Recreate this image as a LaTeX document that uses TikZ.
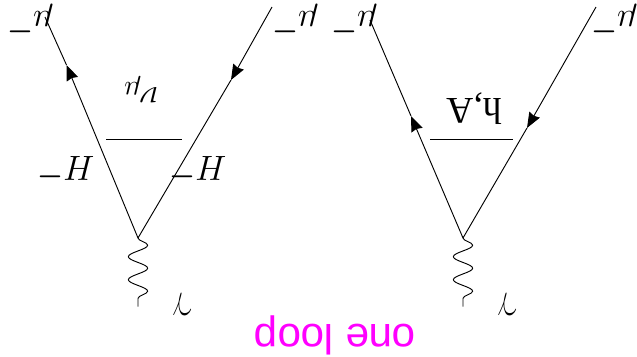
\documentclass[tikz,border=0pt]{standalone}
\usepackage{fontspec}
\setmainfont{Liberation Serif}
\setsansfont{Liberation Sans}
\usetikzlibrary{arrows.meta,decorations.pathmorphing}
\definecolor{loopmagenta}{rgb}{1,0,1}
\newcommand{\heavyminus}{\mbox{\boldmath$\scriptstyle-$}}
\tikzset{
  fermion/.style={line width=0.8pt,-{Stealth[length=0.46cm,width=0.36cm,inset=0.04cm]}},
  plainline/.style={line width=0.8pt},
  photon/.style={line width=0.8pt,decorate,decoration={snake,segment length=0.69cm,amplitude=0.29cm}},
  mathlabel/.style={rotate=180,scale=1.2,font=\Huge,inner sep=0pt},
  textlabel/.style={rotate=180,inner sep=0pt,font=\fontsize{32}{32}\selectfont},
  looplabel/.style={rotate=180,inner sep=0pt,text=loopmagenta,font=\sffamily\fontsize{36}{36}\selectfont}
}
\begin{document}
\begin{tikzpicture}[x=0.03cm,y=-0.03cm]
  \useasboundingbox (0,0) rectangle (637,356);
  % left diagram
  \coordinate (vertA) at (138,238);
  \coordinate (muOutA) at (45,17);
  \coordinate (muInA) at (272,7);
  \coordinate (tipOutA) at (66.5,65);
  \coordinate (tipInA) at (231,80);
  \coordinate (photA) at (138,306.5);
  \coordinate (barLA) at (106,139);
  \coordinate (barRA) at (182,139);
  \draw[fermion] (vertA) -- (tipOutA);
  \draw[plainline] (tipOutA) -- (muOutA);
  \draw[fermion] (muInA) -- (tipInA);
  \draw[plainline] (tipInA) -- (vertA);
  \draw[plainline] (barLA) -- (barRA);
  \draw[photon] (vertA) -- (photA);
  \node[mathlabel] (muA) at (30,24) {$\mu^{\heavyminus}$};
  \node[mathlabel] (muB) at (295,24) {$\mu^{\heavyminus}$};
  \node[mathlabel] (nuA) at (141,90) {$\nu_\mu$};
  \node[mathlabel] (higgsA) at (66,172) {$H^{\heavyminus}$};
  \node[mathlabel] (higgsB) at (198,172) {$H^{\heavyminus}$};
  \node[mathlabel] (gamA) at (182,305) {$\gamma$};
  % right diagram
  \coordinate (vertB) at (463,238);
  \coordinate (muOutB) at (370,20);
  \coordinate (muInB) at (596,7);
  \coordinate (tipOutB) at (411,116);
  \coordinate (tipInB) at (527,128);
  \coordinate (photB) at (463,306.5);
  \coordinate (barLB) at (430,139);
  \coordinate (barRB) at (513,139);
  \draw[fermion] (vertB) -- (tipOutB);
  \draw[plainline] (tipOutB) -- (muOutB);
  \draw[fermion] (muInB) -- (tipInB);
  \draw[plainline] (tipInB) -- (vertB);
  \draw[plainline] (barLB) -- (barRB);
  \draw[photon] (vertB) -- (photB);
  \node[mathlabel] (muC) at (354,24) {$\mu^{\heavyminus}$};
  \node[mathlabel] (muD) at (614,24) {$\mu^{\heavyminus}$};
  \node[textlabel] (hA) at (474,109) {h,A};
  \node[mathlabel] (gamB) at (507,305) {$\gamma$};
  % caption
  \node[looplabel] (oneloop) at (335,335) {one loop};
\end{tikzpicture}
\end{document}
